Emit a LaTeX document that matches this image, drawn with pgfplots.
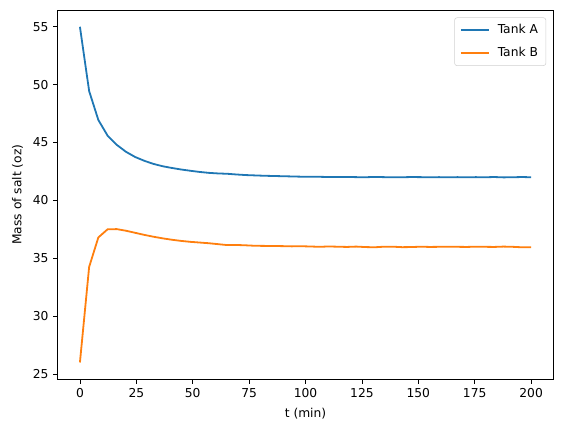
\documentclass[border=0pt]{standalone}
\usepackage{fontspec}
\setmainfont{DejaVu Sans}
\usepackage{pgfplots}
\pgfplotsset{compat=1.18}
\definecolor{tabblue}{HTML}{1F77B4}
\definecolor{taborange}{HTML}{FF7F0E}
\begin{document}
\begin{tikzpicture}
\begin{axis}[
  scale only axis,
  width=372pt, height=276.75pt,
  xmin=-10, xmax=210, ymin=24.55, ymax=56.45,
  xtick={0,25,...,200}, ytick={25,30,...,55},
  tick align=outside, tick pos=left,
  major tick length=3.2pt,
  axis line style={line width=0.6pt},
  every tick/.style={black, line width=0.6pt},
  /pgf/number format/assume math mode=true,
  tick label style={font=\fontsize{9.2}{11}\selectfont},
  label style={font=\fontsize{9.2}{11}\selectfont},
  xlabel={t (min)}, ylabel={Mass of salt (oz)},
  xlabel style={yshift=-1.5pt},
  ylabel style={yshift=0.5pt},
  legend style={at={(0.985,0.98)}, anchor=north east, draw=black!18, rounded corners=2pt,
    font=\fontsize{9.2}{11}\selectfont, inner xsep=4pt, inner ysep=3pt, row sep=5pt},
  legend cell align=left,
  legend image code/.code={\draw[#1] (0cm,0cm) -- (0.74cm,0cm); \path (0.74cm+4pt,0cm);},
]
\addplot[tabblue, line width=1.35pt] coordinates {
(0,55) (4.0816,49.45) (8.1633,46.95) (12.2449,45.6) (16.3265,44.8) (20.4082,44.2)
(24.4898,43.75) (28.5714,43.42) (32.6531,43.15) (36.7347,42.95) (40.8163,42.8)
(44.898,42.67) (48.9796,42.56) (53.0612,42.46) (57.1429,42.38) (61.2245,42.33)
(65.3061,42.3) (69.3878,42.24) (73.4694,42.19) (77.551,42.16) (81.6327,42.13)
(85.7143,42.11) (89.7959,42.09) (93.8776,42.07) (97.9592,42.05) (102.0408,42.05)
(106.1224,42.04) (110.2041,42.02) (114.2857,42.03) (118.3673,42.03) (122.449,42.01)
(126.5306,42.0) (130.6122,42.03) (134.6939,42.01) (138.7755,42.0) (142.8571,42.0)
(146.9388,42.02) (151.0204,42.01) (155.102,42.0) (159.1837,42.01) (163.2653,42.0)
(167.3469,42.01) (171.4286,42.0) (175.5102,42.01) (179.5918,42.0) (183.6735,42.02)
(187.7551,41.99) (191.8367,42.0) (195.9184,42.02) (200,42.0)
};
\addlegendentry{Tank A}
\addplot[taborange, line width=1.35pt] coordinates {
(0,26) (4.0816,34.25) (8.1633,36.8) (12.2449,37.5) (16.3265,37.52) (20.4082,37.38)
(24.4898,37.2) (28.5714,37.02) (32.6531,36.86) (36.7347,36.72) (40.8163,36.6)
(44.898,36.5) (48.9796,36.42) (53.0612,36.36) (57.1429,36.3) (61.2245,36.22)
(65.3061,36.14) (69.3878,36.15) (73.4694,36.12) (77.551,36.08) (81.6327,36.07)
(85.7143,36.06) (89.7959,36.05) (93.8776,36.03) (97.9592,36.04) (102.0408,36.02)
(106.1224,35.99) (110.2041,36.02) (114.2857,36.0) (118.3673,35.98) (122.449,36.01)
(126.5306,35.97) (130.6122,35.95) (134.6939,36.0) (138.7755,36.0) (142.8571,35.96)
(146.9388,35.97) (151.0204,36.0) (155.102,35.98) (159.1837,35.99) (163.2653,36.0)
(167.3469,35.99) (171.4286,35.98) (175.5102,36.0) (179.5918,35.99) (183.6735,35.98)
(187.7551,36.01) (191.8367,35.99) (195.9184,35.95) (200,35.96)
};
\addlegendentry{Tank B}
\end{axis}
\pgfresetboundingbox
\path (current axis.south west) ++(-43pt,-40.5pt) coordinate (bbA);
\path (current axis.north east) ++(7pt,7.5pt) coordinate (bbB);
\useasboundingbox (bbA) rectangle (bbB);
\end{tikzpicture}
\end{document}
